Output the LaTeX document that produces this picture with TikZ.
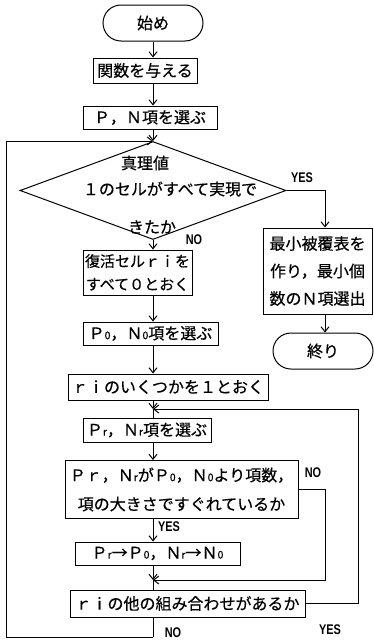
\documentclass[tikz,border=0pt]{standalone}
\usepackage{fontspec}
\setmainfont{Noto Sans CJK JP}[FakeBold=0.5]
\newfontfamily\labfont{Liberation Sans}
\usetikzlibrary{arrows.meta,shapes.geometric}
\newcommand\sbx[1]{{\fontsize{10.5}{10.5}\selectfont #1}}
\newcommand\yn[1]{\scalebox{0.78}[1]{\labfont\bfseries #1}}
\begin{document}
\begin{tikzpicture}[x=1pt,y=-1pt,
  lw/.style={line width=1pt},
  box/.style={draw,lw,inner sep=0pt,align=center,font=\fontsize{16}{23}\selectfont},
  term/.style={draw,lw,rounded corners=18pt,minimum width=100pt,minimum height=36pt,inner sep=0pt,font=\fontsize{16}{18}\selectfont},
  arr/.style={lw,-{Straight Barb[length=5pt,width=8pt]}},
  ynl/.style={inner sep=0pt,font=\fontsize{14}{14}\selectfont},
  dtxt/.style={inner sep=0pt,font=\fontsize{16}{18}\selectfont}]
\useasboundingbox (0,0) rectangle (374,640);
% axis coordinates
\coordinate (ax) at (153,0);
\coordinate (yx) at (325,0);
\coordinate (rx) at (358,0);
\coordinate (lx) at (6,0);
\coordinate (ly) at (153,409);
\coordinate (jy) at (153,580);
\coordinate (by) at (153,637);
% nodes
\node[term] (start) at (153,23) {始め};
\node[box,minimum width=104pt,minimum height=25pt] (f) at (145,70.5) {関数を与える};
\node[box,minimum width=134pt,minimum height=23pt] (p) at (150,117.5) {Ｐ，Ｎ項を選ぶ};
\node[draw,lw,diamond,minimum width=266pt,minimum height=98pt,inner sep=0pt] (d) at (153,190.5) {};
\node[dtxt] (d1) at (145,163) {真理値};
\node[dtxt] (d2) at (170,189) {１のセルがすべて実現で};
\node[dtxt] (d3) at (152,227) {きたか};
\node[box,minimum width=109pt,minimum height=86pt,font=\fontsize{16}{27.5}\selectfont] (m) at (317.5,271) {最小被覆表を\\作り，最小個\\数のＮ項選出};
\node[term] (e) at (323,351) {終り};
\node[box,minimum width=109pt,minimum height=45pt,font=\fontsize{15}{23}\selectfont] (r) at (137.5,272.5) {復活セルｒｉを\\すべて０とおく};
\node[box,minimum width=135pt,minimum height=23pt] (po) at (150.5,333.5) {Ｐ\sbx{0}，Ｎ\sbx{0}項を選ぶ};
\node[box,minimum width=200pt,minimum height=26pt] (ri) at (168,387) {ｒｉのいくつかを１とおく};
\node[box,minimum width=128pt,minimum height=24pt] (pr) at (147,430) {Ｐ\sbx{r}，Ｎ\sbx{r}項を選ぶ};
\node[box,minimum width=233pt,minimum height=58pt,font=\fontsize{16}{29}\selectfont] (big) at (181.5,489.5) {Ｐｒ，Ｎ\sbx{r}がＰ\sbx{0}，Ｎ\sbx{0}より項数，\\項の大きさですぐれているか};
\node[box,minimum width=165pt,minimum height=23pt] (prpo) at (157.5,553.5) {Ｐ\sbx{r}→Ｐ\sbx{0}，Ｎ\sbx{r}→Ｎ\sbx{0}};
\node[box,minimum width=235pt,minimum height=27pt] (other) at (187.5,603.5) {ｒｉの他の組み合わせがあるか};
% labels
\node[ynl] (l1) at (302,178) {\yn{YES}};
\node[ynl] (l2) at (194,240) {\yn{NO}};
\node[ynl] (l3) at (313,473) {\yn{NO}};
\node[ynl] (l4) at (169,527) {\yn{YES}};
\node[ynl] (l5) at (330,630) {\yn{YES}};
\node[ynl] (l6) at (173,633) {\yn{NO}};
% connectors
\draw[arr] (start.south) -- (start.south |- f.north);
\draw[arr] (f.south -| ax) -- (p.north -| ax);
\draw[arr] (p.south -| ax) -- (d.north);
\draw[arr] (d.east) -| (yx |- m.north);
\draw[arr] (m.south -| yx) -- (e.north -| yx);
\draw[arr] (d.south) -- (d.south |- r.north);
\draw[arr] (r.south -| ax) -- (po.north -| ax);
\draw[arr] (po.south -| ax) -- (ri.north -| ax);
\draw[arr] (ri.south -| ax) -- (ly);
\draw[lw] (ly) -- (pr.north -| ax);
\draw[arr] (pr.south -| ax) -- (big.north -| ax);
\draw[arr] (big.south -| ax) -- (prpo.north -| ax);
\draw[arr] (prpo.south -| ax) -- (jy);
\draw[lw] (jy) -- (other.north -| ax);
\draw[arr] (big.east) -| (yx |- jy) -- (jy);
\draw[arr] (other.east) -| (rx |- ly) -- (ly);
\draw[lw] (other.south -| ax) -- (by);
\draw[arr] (by) -| (lx |- d.north) -- (d.north);
\end{tikzpicture}
\end{document}
